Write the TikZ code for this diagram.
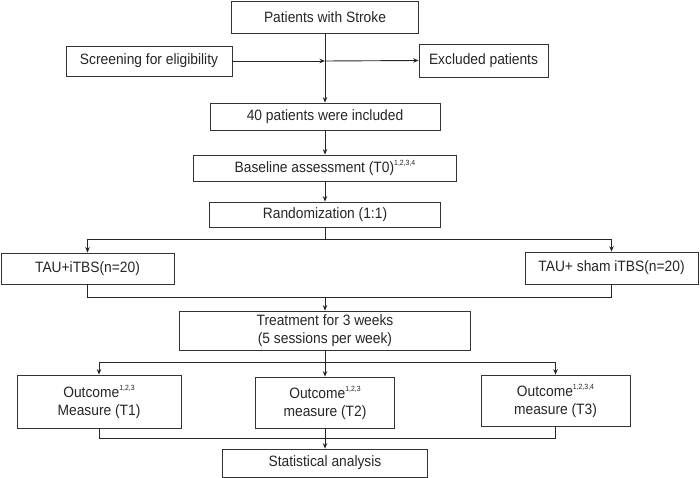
\documentclass[tikz,border=0pt]{standalone}
\usepackage{fontspec}
\setmainfont{Liberation Sans}[FakeStretch=0.92]
\usetikzlibrary{arrows.meta}
\newcommand{\sups}[1]{\raisebox{0.95ex}{\fontsize{7.5}{8}\selectfont #1}}
\begin{document}
\begin{tikzpicture}[x=1pt,y=-1pt,
  box/.style={draw=black!80,line width=0.8pt,fill=white,inner sep=1pt,align=center,
    font=\fontsize{15}{17.5}\selectfont,text=black!85},
  conn/.style={draw=black!85,line width=0.9pt},
  arr/.style={conn,-{Stealth[length=5.5pt,width=4.5pt]}}]
\useasboundingbox (0,0) rectangle (700,478);
% boxes
\node[box,minimum width=187pt,minimum height=32pt] (stroke) at (325,17) {Patients with Stroke};
\node[box,minimum width=166pt,minimum height=30pt] (screen) at (149,61) {Screening for eligibility};
\node[box,minimum width=129pt,minimum height=33pt] (excl) at (483.5,60.5) {Excluded patients};
\node[box,minimum width=230pt,minimum height=27pt] (incl) at (325,116.5) {40 patients were included};
\node[box,minimum width=263pt,minimum height=26pt] (bline) at (325,168) {Baseline assessment (T0)\sups{1,2,3,4}};
\node[box,minimum width=231pt,minimum height=25pt] (rnd) at (325,214.5) {Randomization (1:1)};
\node[box,minimum width=173pt,minimum height=31pt] (tau1) at (87.5,268.5) {TAU+iTBS(n=20)};
\node[box,minimum width=173pt,minimum height=32pt] (tau2) at (611.5,268) {TAU+ sham iTBS(n=20)};
\node[box,minimum width=291pt,minimum height=39pt] (treat) at (325,330.5) {Treatment for 3 weeks\\(5 sessions per week)};
\node[box,minimum width=164pt,minimum height=53pt] (out1) at (99,401.5) {Outcome\sups{1,2,3}\\Measure (T1)};
\node[box,minimum width=139pt,minimum height=51pt] (out2) at (325,402.5) {Outcome\sups{1,2,3}\\measure (T2)};
\node[box,minimum width=149pt,minimum height=51pt] (out3) at (555.5,400.5) {Outcome\sups{1,2,3,4}\\measure (T3)};
\node[box,minimum width=205pt,minimum height=28pt] (stat) at (325,463) {Statistical analysis};
% coordinates
\coordinate (mid) at (325,61);
\coordinate (rsplit) at (325,239);
\coordinate (tjoin) at (325,297);
\coordinate (tsplit) at (325,362);
\coordinate (ojoin) at (325,438);
% connectors
\draw[arr] (stroke.south) -- (incl.north);
\draw[arr] (screen.east) -- (mid);
\draw[arr] (mid) -- (excl.west);
\draw[arr] (incl.south) -- (bline.north);
\draw[arr] (bline.south) -- (rnd.north);
\draw[conn] (rnd.south) -- (rsplit);
\draw[arr] (rsplit) -| (tau1.north);
\draw[arr] (rsplit) -| (tau2.north);
\draw[conn] (tau1.south) |- (tjoin);
\draw[conn] (tau2.south) |- (tjoin);
\draw[arr] (tjoin) -- (treat.north);
\draw[conn] (treat.south) -- (tsplit);
\draw[arr] (tsplit) -| (out1.north);
\draw[arr] (tsplit) -- (out2.north);
\draw[arr] (tsplit) -| (out3.north);
\draw[conn] (out1.south) |- (ojoin);
\draw[conn] (out3.south) |- (ojoin);
\draw[arr] (out2.south) -- (stat.north);
\end{tikzpicture}
\end{document}
